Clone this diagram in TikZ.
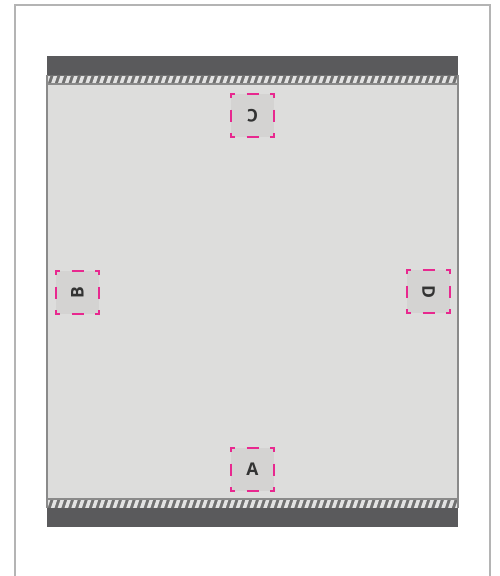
\documentclass[tikz,border=0pt]{standalone}
\usepackage{fontspec}
\setmainfont{Open Sans}
\definecolor{frame}{HTML}{B4B4B4}
\definecolor{band}{HTML}{5A5A5C}
\definecolor{inner}{HTML}{DDDDDC}
\definecolor{edge}{HTML}{8A8A8A}
\definecolor{stripebg}{HTML}{707070}
\definecolor{stripefg}{HTML}{E2E2E2}
\definecolor{mark}{HTML}{E8288F}
\definecolor{markfill}{HTML}{D4D3D2}
\definecolor{ink}{HTML}{333333}
\tikzset{
  spot/.style={minimum width=43pt,minimum height=43pt,inner sep=0pt,fill=markfill,
    text=ink,font=\bfseries\fontsize{17.5}{17.5}\selectfont},
  magdash/.style={draw=mark,line width=2pt,line cap=butt},
}
\newcommand{\spotframe}[1]{%
  \begin{scope}[shift={(#1.center)}]
    \draw[magdash] (-21.5,-17.5) -- (-21.5,-21.5) -- (-17.5,-21.5);
    \draw[magdash] (17.5,-21.5) -- (21.5,-21.5) -- (21.5,-17.5);
    \draw[magdash] (21.5,17.5) -- (21.5,21.5) -- (17.5,21.5);
    \draw[magdash] (-17.5,21.5) -- (-21.5,21.5) -- (-21.5,17.5);
    \draw[magdash] (-6,-21.5) -- (6,-21.5);
    \draw[magdash] (-6,21.5) -- (6,21.5);
    \draw[magdash] (-21.5,-6) -- (-21.5,6);
    \draw[magdash] (21.5,-6) -- (21.5,6);
  \end{scope}}
\begin{document}
\begin{tikzpicture}[x=1pt,y=-1pt]
\useasboundingbox[fill=white] (0,0) rectangle (500,576);
% outer frame
\draw[frame,line width=2pt] (15,600) -- (15,5) -- (490,5) -- (490,600);
% main box
\fill[inner] (47,84) rectangle (458,499);
\fill[band] (47,56) rectangle (458,75);
\fill[band] (47,508) rectangle (458,527);
% hatched strips
\foreach \ya/\yb in {75/84, 499/508}{
  \fill[stripebg] (47,\ya) rectangle (458,\yb);
  \begin{scope}
    \clip (47,\ya+1) rectangle (458,\yb-1);
    \foreach \x in {44,50.85,...,462}{
      \fill[stripefg] (\x,\yb) -- (\x+3.6,\yb) -- (\x+6.6,\ya) -- (\x+3,\ya) -- cycle;
    }
  \end{scope}
}
\draw[edge,line width=1.2pt] (47,84) -- (458,84);
\draw[edge,line width=1.2pt] (47,499) -- (458,499);
\draw[edge,line width=1.5pt] (47,75) -- (47,508);
\draw[edge,line width=1.5pt] (458,75) -- (458,508);
% spots
\node[spot,rotate=180] (labC) at (252.5,115.5) {C};
\node[spot,rotate=90] (labB) at (77.5,292.5) {B};
\node[spot,rotate=-90] (labD) at (428.5,291.5) {D};
\node[spot] (labA) at (252.5,469.5) {A};
\spotframe{labC}
\spotframe{labB}
\spotframe{labD}
\spotframe{labA}
\end{tikzpicture}
\end{document}
